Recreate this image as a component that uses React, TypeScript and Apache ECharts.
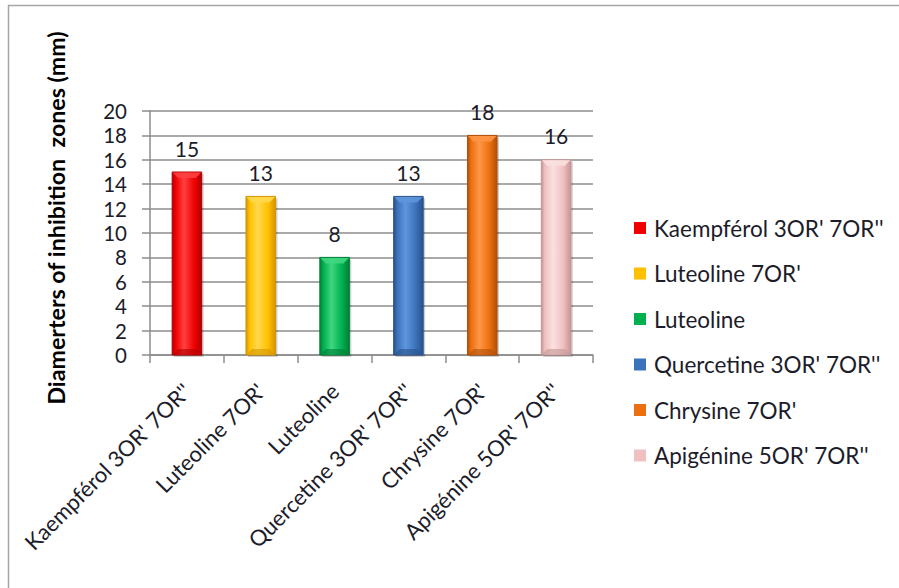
import React, { useEffect, useRef } from "react";
import * as echarts from "echarts";

// Flavonoid derivatives and their inhibition zone diameters (mm)
const categories = [
  "Kaempférol 3OR' 7OR''",
  "Luteoline 7OR'",
  "Luteoline",
  "Quercetine 3OR' 7OR''",
  "Chrysine 7OR'",
  "Apigénine 5OR' 7OR''",
];
const values = [15, 13, 8, 13, 18, 16];
const yTicks = [0, 2, 4, 6, 8, 10, 12, 14, 16, 18, 20];

// [edge, body, highlight] tones for each bar
const palette = [
  ["#b00000", "#f00000", "#ff4040"],
  ["#d49500", "#ffc000", "#ffd84d"],
  ["#007f37", "#00b050", "#3fd67f"],
  ["#28528a", "#3a72bb", "#5f95da"],
  ["#b04e08", "#ec700f", "#ff9646"],
  ["#c49494", "#f0c0c0", "#fbe0e0"],
];

const FONT = "Lato, 'Open Sans', sans-serif";
const TEXT = "#1c1c2a";

export default function App() {
  const ref = useRef<HTMLDivElement>(null);

  useEffect(() => {
    document.documentElement.style.overflow = "hidden";
    document.body.style.margin = "0";
    document.body.style.overflow = "hidden";
    if (!ref.current) return;
    const chart = echarts.init(ref.current, null, { renderer: "svg" });

    const series = categories.map((name, i) => {
      const [edge, body, light] = palette[i];
      return {
        type: "custom",
        name,
        itemStyle: { color: body },
        encode: { x: 0, y: 1 },
        data: [[i, values[i]]],
        renderItem: (params: any, api: any) => {
          const idx = api.value(0);
          const v = api.value(1);
          const top = api.coord([idx, v]);
          const base = api.coord([idx, 0]);
          const bw = api.size([1, 0])[0] * 0.4;
          const left = top[0] - bw / 2;
          const h = base[1] - top[1];
          const bev = Math.min(6, h / 3);
          const grad = new echarts.graphic.LinearGradient(0, 0, 1, 0, [
            { offset: 0, color: edge },
            { offset: 0.12, color: body },
            { offset: 0.4, color: light },
            { offset: 0.75, color: body },
            { offset: 1, color: edge },
          ]);
          return {
            type: "group",
            children: [
              {
                type: "rect",
                shape: { x: left + 2, y: top[1] + 2, width: bw, height: h },
                style: { fill: "rgba(0,0,0,0.18)" },
                silent: true,
              },
              {
                type: "rect",
                shape: { x: left, y: top[1], width: bw, height: h },
                style: { fill: grad, stroke: edge, lineWidth: 1 },
              },
              {
                type: "polygon",
                shape: {
                  points: [
                    [left + 0.5, top[1] + 0.5],
                    [left + bw - 0.5, top[1] + 0.5],
                    [left + bw - bev, top[1] + bev],
                    [left + bev, top[1] + bev],
                  ],
                },
                style: { fill: light, opacity: 0.9 },
              },
              {
                type: "polygon",
                shape: {
                  points: [
                    [left + 0.5, base[1] - 0.5],
                    [left + bw - 0.5, base[1] - 0.5],
                    [left + bw - bev, base[1] - bev],
                    [left + bev, base[1] - bev],
                  ],
                },
                style: { fill: edge, opacity: 0.6 },
              },
              {
                type: "text",
                x: top[0],
                y: top[1] - 24,
                style: {
                  text: String(v),
                  fill: TEXT,
                  font: `21px ${FONT}`,
                  textAlign: "center",
                  textVerticalAlign: "middle",
                },
              },
            ],
          };
        },
      };
    });

    chart.setOption({
      animation: false,
      backgroundColor: "#ffffff",
      textStyle: { fontFamily: FONT },
      graphic: [
        {
          type: "polyline",
          shape: { points: [[8.5, 600], [8.5, 5.5], [899, 5.5]] },
          style: { fill: "none", stroke: "#a6a6a6", lineWidth: 1.5 },
          silent: true,
        },
        {
          type: "text",
          x: 56,
          y: 218,
          rotation: Math.PI / 2,
          style: {
            text: "Diamerters of inhibition  zones (mm)",
            fill: "#000",
            font: `bold 23.2px ${FONT}`,
            textAlign: "center",
            textVerticalAlign: "middle",
          },
        },
      ],
      grid: { left: 150, right: 306, top: 111, bottom: 233 },
      legend: {
        orient: "vertical",
        left: 629,
        top: 211,
        itemWidth: 12,
        itemHeight: 12,
        itemGap: 21.5,
        icon: "rect",
        textStyle: {
          fontSize: 22.5,
          color: TEXT,
          fontFamily: FONT,
          lineHeight: 24,
          padding: [0, 0, 0, 3],
        },
        data: categories,
      },
      xAxis: {
        type: "category",
        data: categories,
        axisLine: { lineStyle: { color: "#8c8c8c", width: 1.5 } },
        axisTick: { show: true, length: 8, lineStyle: { color: "#8c8c8c", width: 1.5 } },
        axisLabel: {
          rotate: 45,
          margin: 32,
          fontSize: 22,
          color: TEXT,
          fontFamily: FONT,
          interval: 0,
        },
        splitLine: { show: false },
      },
      yAxis: {
        type: "value",
        min: 0,
        max: 20,
        interval: 2,
        axisLine: { show: true, lineStyle: { color: "#8c8c8c", width: 1.5 } },
        axisTick: { show: true, length: 8, lineStyle: { color: "#8c8c8c", width: 1.5 } },
        axisLabel: {
          margin: 23,
          fontSize: 20.5,
          color: TEXT,
          fontFamily: FONT,
          formatter: (val: number) => (yTicks.includes(val) ? String(val) : ""),
        },
        splitLine: { show: true, lineStyle: { color: "#8c8c8c", width: 1.5 } },
      },
      series,
    });

    return () => chart.dispose();
  }, []);

  return (
    <div
      ref={ref}
      style={{
        position: "absolute",
        left: 0,
        top: 0,
        width: 899,
        height: 588,
        overflow: "hidden",
      }}
    />
  );
}
